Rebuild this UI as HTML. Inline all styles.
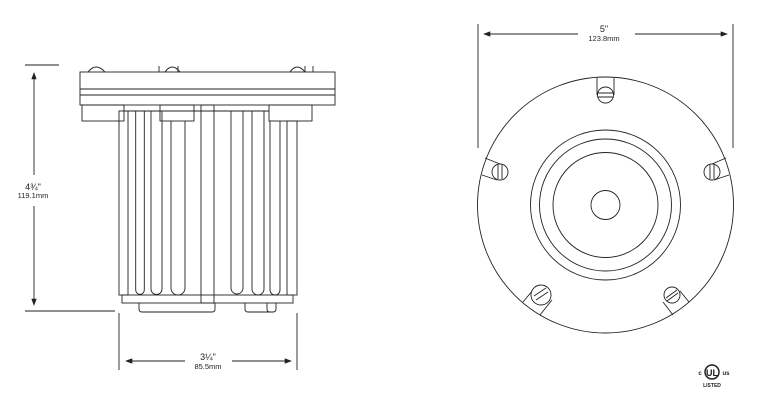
<!DOCTYPE html>
<html><head><style>
body{margin:0;background:#fff;width:761px;height:402px;overflow:hidden}
svg{display:block}
text{font-family:"Liberation Sans",sans-serif;fill:#222}
</style></head><body>
<svg width="761" height="402" viewBox="0 0 761 402" fill="none" stroke="#222" stroke-width="0.9">
<defs><marker id="a" markerWidth="8" markerHeight="6" refX="7" refY="3" orient="auto"><path d="M0,0 L8,3 L0,6z" fill="#222" stroke="none"/></marker></defs>
<!-- left dims -->
<line x1="25" y1="65" x2="59" y2="65"/>
<line x1="25" y1="311" x2="115" y2="311"/>
<line x1="34" y1="175" x2="34" y2="73" marker-end="url(#a)"/>
<line x1="34" y1="206" x2="34" y2="305" marker-end="url(#a)"/>
<text x="33" y="190" font-size="9" text-anchor="middle" stroke="none">4¾"</text>
<text x="33" y="198" font-size="7.5" text-anchor="middle" stroke="none">119.1mm</text>
<line x1="119" y1="313" x2="119" y2="370"/>
<line x1="297" y1="313" x2="297" y2="370"/>
<line x1="185" y1="361" x2="126" y2="361" marker-end="url(#a)"/>
<line x1="232" y1="361" x2="291" y2="361" marker-end="url(#a)"/>
<text x="208" y="360" font-size="9" text-anchor="middle" stroke="none">3¼"</text>
<text x="208" y="369" font-size="7.5" text-anchor="middle" stroke="none">85.5mm</text>
<!-- top plate -->
<path d="M88,72 Q96,62 105,72 M165,72 Q172,62 180,72 M290,72 Q297,62 305,72"/>
<line x1="159" y1="66" x2="159" y2="72"/><line x1="313" y1="66" x2="313" y2="72"/>
<line x1="178" y1="66" x2="178" y2="72"/><line x1="305" y1="66" x2="305" y2="72"/>
<rect x="80" y="72" width="255" height="33"/>
<line x1="80" y1="89" x2="335" y2="89"/><line x1="80" y1="95" x2="335" y2="95"/>
<!-- brackets -->
<rect x="82" y="105" width="42" height="16"/>
<rect x="160" y="105" width="34" height="16"/>
<rect x="269" y="105" width="43" height="16"/>
<!-- body -->
<rect x="119" y="111" width="9" height="184"/>
<rect x="287" y="121" width="10" height="174"/>
<rect x="201" y="105" width="13" height="198"/>
<path d="M135.7,111 V290 a4.3,4.3 0 0 0 8.6,0 V111"/>
<path d="M151,111 V289 a5.5,5.5 0 0 0 11,0 V111"/>
<path d="M171,121 V288 a7,7 0 0 0 14,0 V121"/>
<path d="M231,111 V288 a6,6 0 0 0 12,0 V111"/>
<path d="M252,111 V289 a6,6 0 0 0 12,0 V111"/>
<path d="M270,121 V290 a5,5 0 0 0 10,0 V121"/>
<line x1="124" y1="111" x2="269" y2="111"/>
<rect x="122" y="295" width="171" height="8"/>
<path d="M139,303 V309 q0,3 3,3 H212 q3,0 3,-3 V303"/>
<path d="M245,303 V309 q0,3 3,3 H273 q3,0 3,-3 V303 M267,303 V309 q0,3 3,3"/>
<!-- right dims -->
<line x1="478" y1="24" x2="478" y2="148"/>
<line x1="733" y1="24" x2="733" y2="148"/>
<line x1="578" y1="34" x2="484" y2="34" marker-end="url(#a)"/>
<line x1="635" y1="34" x2="727" y2="34" marker-end="url(#a)"/>
<text x="604" y="32" font-size="9" text-anchor="middle" stroke="none">5"</text>
<text x="604" y="41" font-size="7.5" text-anchor="middle" stroke="none">123.8mm</text>
<!-- circle view -->
<circle cx="605.5" cy="205" r="128"/>
<circle cx="605.5" cy="205" r="75"/>
<circle cx="605.5" cy="205" r="66"/>
<circle cx="605.5" cy="205" r="52.5"/>
<circle cx="605.5" cy="205" r="14.5"/>
<!-- screws -->
<path d="M597,78 V95 M614,78 V95"/>
<circle cx="605.5" cy="95" r="8" fill="#fff"/><path d="M598,93 H613 M598,97 H613"/>
<path d="M485,158 L500,164 M482,175 L497,180"/>
<circle cx="500" cy="172" r="8" fill="#fff"/><path d="M498,165 L498,179 M502,165 L502,179"/>
<path d="M726,158 L712,164 M729,175 L714,180"/>
<circle cx="712" cy="172" r="8" fill="#fff"/><path d="M710,165 L710,179 M714,165 L714,179"/>
<path d="M523,302 L533,290 M540,315 L552,300"/>
<circle cx="541" cy="295" r="10" fill="#fff"/><path d="M534,296 L546,288 M536,300 L548,292"/>
<path d="M689,302 L680,291 M673,315 L663,302"/>
<circle cx="672" cy="295" r="8" fill="#fff"/><path d="M666,298 L677,290 M667,301 L678,293"/>
<!-- UL -->
<circle cx="712" cy="372" r="7" stroke-width="1.5"/>
<text x="712" y="376" font-size="9" font-weight="bold" text-anchor="middle" stroke="none">UL</text>
<text x="700" y="375" font-size="6" font-weight="bold" text-anchor="middle" stroke="none">c</text>
<text x="726" y="375" font-size="6" font-weight="bold" text-anchor="middle" stroke="none">us</text>
<text x="712" y="387" font-size="5" font-weight="bold" text-anchor="middle" stroke="none">LISTED</text>
</svg>
</body></html>
